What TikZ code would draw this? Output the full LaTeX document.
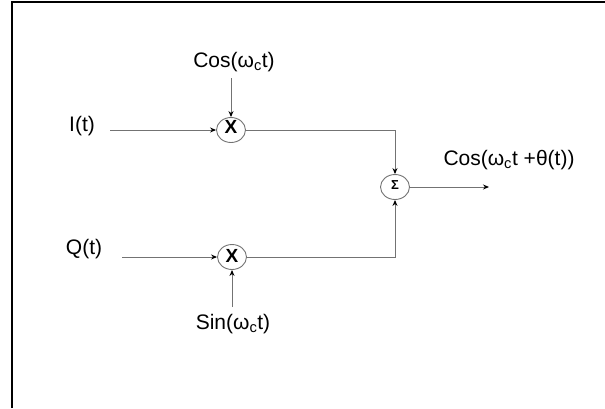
\documentclass[tikz,border=0pt]{standalone}
\usepackage{fontspec}
\setmainfont{Liberation Sans}
\usetikzlibrary{arrows.meta,shapes.geometric}
\tikzset{
  lbl/.style={font=\fontsize{21}{25}\selectfont, inner sep=0pt},
  wire/.style={draw=black!55, line width=0.9pt},
  arr/.style={wire, -{Stealth[length=6pt,width=5pt,color=black]}},
  mixer/.style={ellipse, draw=black!55, line width=0.9pt, minimum width=29pt, minimum height=25pt, inner sep=0pt},
  sym/.style={font=\fontsize{19}{22}\selectfont\bfseries, inner sep=0pt},
  sigma/.style={font=\fontsize{13}{15}\selectfont\bfseries, inner sep=0pt}
}
\begin{document}
\begin{tikzpicture}[x=1pt,y=-1pt]
\useasboundingbox (0,0) rectangle (605,408);
\draw[line width=2pt] (12,408) -- (12,2) -- (605,2);

% nodes
\node[mixer] (m1) at (231,130) {};
\node[sym] (x1) at (231,127) {X};
\node[mixer] (m2) at (232,257) {};
\node[sym] (x2) at (232,256) {X};
\node[mixer] (sum) at (395,187) {};
\node[sigma] (sg) at (395,185) {Σ};

% labels
\node[lbl] (cosl) at (234,62) {Cos(ω\textsubscript{c}t)};
\node[lbl] (il) at (82,126) {I(t)};
\node[lbl] (ql) at (84,249) {Q(t)};
\node[lbl] (sinl) at (233,324) {Sin(ω\textsubscript{c}t)};
\node[lbl] (outl) at (509,160) {Cos(ω\textsubscript{c}t +θ(t))};

% connector end points
\coordinate (cs) at (231,78);
\coordinate (ss) at (232,307);
\coordinate (is) at (110,130);
\coordinate (qs) at (122,257);
\coordinate (oe) at (489,187);

% connectors
\draw[arr] (cs) -- (m1.north);
\draw[arr] (ss) -- (m2.south);
\draw[arr] (is) -- (m1.west);
\draw[arr] (qs) -- (m2.west);
\draw[arr] (m1.east) -| (sum.north);
\draw[arr] (m2.east) -| (sum.south);
\draw[arr] (sum.east) -- (oe);
\end{tikzpicture}
\end{document}
